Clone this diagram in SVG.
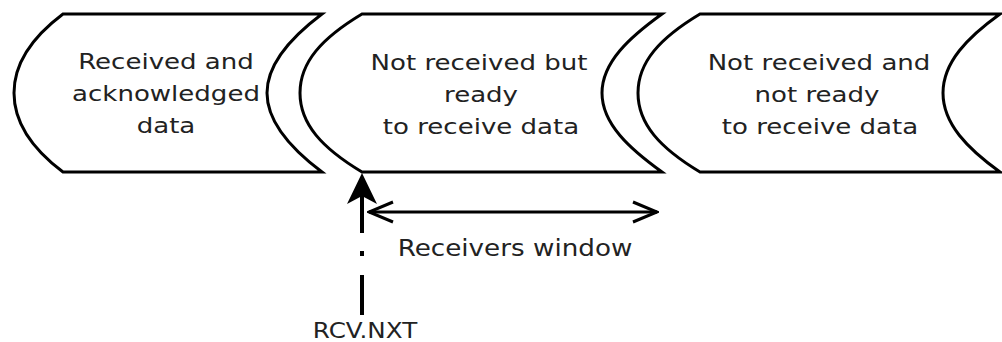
<svg xmlns="http://www.w3.org/2000/svg" width="1002" height="342" viewBox="0 0 1002 342">
  <style>
    .shape { fill: #ffffff; stroke: #000000; stroke-width: 3; stroke-linejoin: miter; }
    .lbl { font-family: "DejaVu Sans", sans-serif; font-size: 21px; fill: #222222; text-anchor: middle; }
    .conn { fill: none; stroke: #000000; stroke-width: 3; }
    .vline { fill: none; stroke: #000000; stroke-width: 4; }
  </style>
  <defs>
    <marker id="open" viewBox="0 0 30 24" refX="28" refY="12" markerWidth="30" markerHeight="24" markerUnits="userSpaceOnUse" orient="auto-start-reverse">
      <path d="M4,2 L28,12 L4,22" fill="none" stroke="#000" stroke-width="3"/>
    </marker>
  </defs>
  <rect width="1002" height="342" fill="#ffffff"/>

  <g id="node-received">
    <path class="shape" d="M63,14 L322,14 C294,35 267,62 267,93 C267,124 294,151 322,172 L63,172 C35,151 14,124 14,93 C14,62 35,35 63,14 Z"/>
    <text class="lbl" transform="translate(166,69) scale(1.24,1)" x="0" y="0">Received and</text>
    <text class="lbl" transform="translate(166,101) scale(1.24,1)" x="0" y="0">acknowledged</text>
    <text class="lbl" transform="translate(166,133) scale(1.24,1)" x="0" y="0">data</text>
  </g>

  <g id="node-ready">
    <path class="shape" d="M362,14 L662,14 C630,37 602,62 602,93 C602,124 630,149 662,172 L362,172 C322,148 300,124 300,93 C300,62 322,38 362,14 Z"/>
    <text class="lbl" transform="translate(479,70) scale(1.24,1)" x="0" y="0">Not received but</text>
    <text class="lbl" transform="translate(481,102) scale(1.24,1)" x="0" y="0">ready</text>
    <text class="lbl" transform="translate(481,134) scale(1.24,1)" x="0" y="0">to receive data</text>
  </g>

  <g id="node-notready">
    <path class="shape" d="M700,14 L1000,14 C968,37 943,62 943,93 C943,124 968,149 1000,172 L700,172 C660,148 638,124 638,93 C638,62 660,38 700,14 Z"/>
    <text class="lbl" transform="translate(819,70) scale(1.24,1)" x="0" y="0">Not received and</text>
    <text class="lbl" transform="translate(817,102) scale(1.24,1)" x="0" y="0">not ready</text>
    <text class="lbl" transform="translate(820,134) scale(1.24,1)" x="0" y="0">to receive data</text>
  </g>

  <g id="connectors">
    <line class="conn" x1="369" y1="212" x2="657" y2="212" marker-start="url(#open)" marker-end="url(#open)"/>
    <path d="M362,173 L377,204 L362,196 L347,204 Z" fill="#000"/>
    <line class="vline" x1="362" y1="196" x2="362" y2="233"/>
    <line class="vline" x1="362" y1="251" x2="362" y2="256"/>
    <line class="vline" x1="362" y1="275" x2="362" y2="315"/>
  </g>

  <g id="label-window">
    <text class="lbl" style="font-size:23.5px" transform="translate(515,256) scale(1.115,1)" x="0" y="0">Receivers window</text>
  </g>
  <g id="label-rcvnxt">
    <text class="lbl" style="font-size:22px" transform="translate(365,338) scale(1.12,1)" x="0" y="0">RCV.NXT</text>
  </g>
</svg>
